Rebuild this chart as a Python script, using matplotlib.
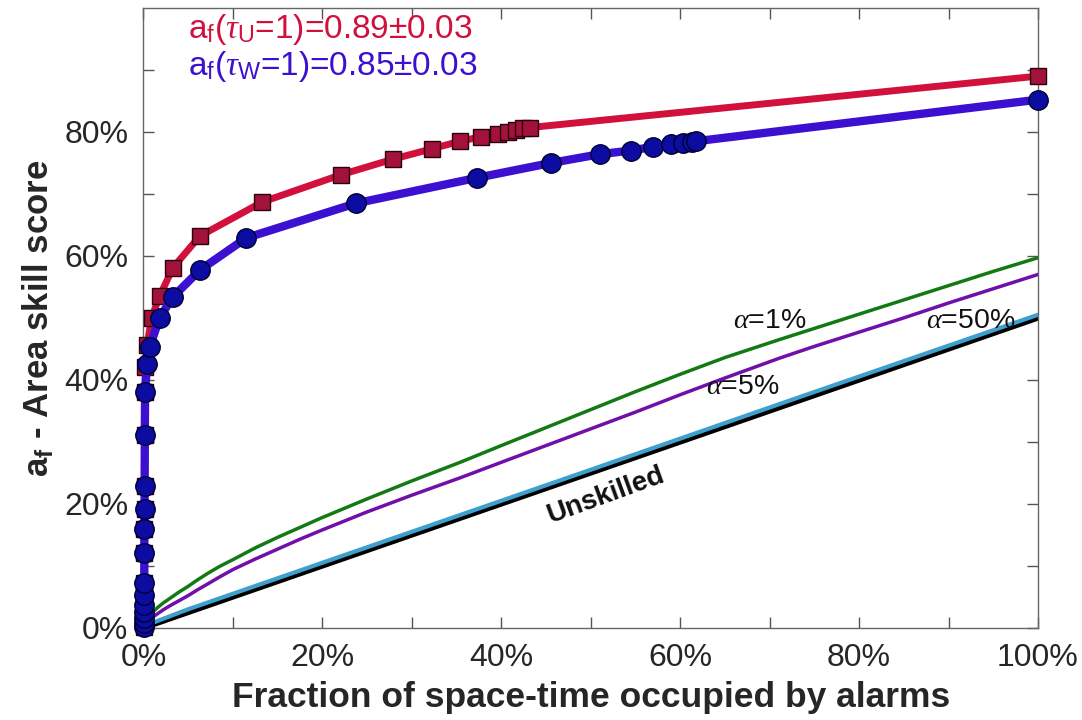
import numpy as np
import matplotlib.pyplot as plt
from matplotlib.ticker import FixedLocator

plt.rcParams["font.family"] = ["Liberation Sans", "DejaVu Sans"]
plt.rcParams["mathtext.fontset"] = "custom"
plt.rcParams["mathtext.rm"] = "Liberation Sans"
plt.rcParams["mathtext.it"] = "Liberation Serif:italic"
plt.rcParams["mathtext.bf"] = "Liberation Sans:bold"

# tau_U curve (red squares)
x_u = [0.0003, 0.0004, 0.0005, 0.0006, 0.0007, 0.0008, 0.0009, 0.001, 0.001, 0.0012,
       0.0013, 0.0015, 0.0018, 0.002, 0.004, 0.009, 0.018, 0.033, 0.063, 0.133,
       0.221, 0.279, 0.323, 0.354, 0.377, 0.396, 0.407, 0.416, 0.424, 0.432, 1.0]
y_u = [0.002, 0.008, 0.016, 0.026, 0.037, 0.053, 0.073, 0.121, 0.16, 0.192,
       0.229, 0.311, 0.381, 0.42, 0.456, 0.50, 0.535, 0.581, 0.632, 0.687,
       0.731, 0.756, 0.773, 0.785, 0.792, 0.797, 0.80, 0.803, 0.806, 0.807, 0.89]

# tau_W curve (blue circles)
x_w = [0.0003, 0.0004, 0.0005, 0.0006, 0.0007, 0.0008, 0.0009, 0.001, 0.001, 0.0012,
       0.0013, 0.0015, 0.0018, 0.004, 0.007, 0.018, 0.033, 0.063, 0.115, 0.238,
       0.373, 0.456, 0.51, 0.545, 0.57, 0.59, 0.603, 0.613, 0.618, 1.0]
y_w = [0.002, 0.008, 0.016, 0.026, 0.037, 0.053, 0.073, 0.121, 0.16, 0.192,
       0.229, 0.311, 0.381, 0.426, 0.453, 0.50, 0.534, 0.577, 0.629, 0.685,
       0.726, 0.75, 0.764, 0.77, 0.776, 0.78, 0.782, 0.783, 0.785, 0.852]

# significance curves (alpha = 1%, 5%)
x_sig = [0.0, 0.001, 0.003, 0.006, 0.01, 0.016, 0.022, 0.03, 0.04, 0.05, 0.06,
         0.072, 0.085, 0.1, 0.125, 0.15, 0.175, 0.2, 0.25, 0.3, 0.354, 0.4,
         0.45, 0.5, 0.55, 0.6, 0.65, 0.711, 0.75, 0.8, 0.85, 0.9, 0.95, 1.0]
y_a1 = [0.0, 0.007, 0.013, 0.019, 0.025, 0.033, 0.040, 0.048, 0.058, 0.067, 0.077,
        0.088, 0.099, 0.11, 0.129, 0.146, 0.162, 0.178, 0.208, 0.237, 0.267, 0.294,
        0.323, 0.352, 0.381, 0.409, 0.436, 0.465, 0.483, 0.506, 0.529, 0.552, 0.575, 0.597]
y_a5 = [0.0, 0.004, 0.008, 0.012, 0.017, 0.023, 0.029, 0.036, 0.044, 0.052, 0.061,
        0.071, 0.082, 0.094, 0.111, 0.127, 0.143, 0.158, 0.187, 0.214, 0.242, 0.267,
        0.294, 0.321, 0.348, 0.376, 0.403, 0.435, 0.454, 0.477, 0.5, 0.524, 0.547, 0.57]
# alpha = 50% and unskilled
x_a50 = [0.0, 0.002, 0.01, 0.05, 0.1, 0.2, 0.354, 0.5, 0.723, 1.0]
y_a50 = [0.0, 0.003, 0.008, 0.03, 0.055, 0.105, 0.182, 0.255, 0.367, 0.505]
x_unsk = [0.0, 1.0]
y_unsk = [0.0, 0.5]

fig = plt.figure(figsize=(10.82, 7.2), dpi=100)
ax = fig.add_axes([0.1326, 0.128, 0.8267, 0.861])

ax.plot(x_unsk, y_unsk, color="black", lw=4, zorder=2)
ax.plot(x_a50, y_a50, color="#3fa0d0", lw=3, zorder=3)
ax.plot(x_sig, y_a5, color="#7010a8", lw=2.5, zorder=3)
ax.plot(x_sig, y_a1, color="#137a13", lw=2.5, zorder=3)

ax.plot(x_u, y_u, color="#d1103c", lw=5, marker="s", ms=12,
        mfc="#a3123a", mec="#2a0010", mew=1, zorder=4, clip_on=False)
ax.plot(x_w, y_w, color="#3c10d0", lw=6, marker="o", ms=14,
        mfc="#0c0ca0", mec="#000033", mew=1, zorder=5, clip_on=False)

ax.set_xlim(0, 1)
ax.set_ylim(0, 1)
ax.xaxis.set_major_locator(FixedLocator(np.arange(0, 1.01, 0.2)))
ax.xaxis.set_minor_locator(FixedLocator(np.arange(0.1, 1.0, 0.2)))
ax.set_xticklabels(["0%", "20%", "40%", "60%", "80%", "100%"])
ax.yaxis.set_major_locator(FixedLocator(np.arange(0, 0.81, 0.2)))
ax.yaxis.set_minor_locator(FixedLocator(np.arange(0.1, 1.0, 0.2)))
ax.set_yticklabels(["0%", "20%", "40%", "60%", "80%"])
ax.tick_params(which="both", direction="in", length=8, width=1, color="#555555",
               top=True, right=True, labelsize=23, labelcolor="#262626", pad=11)
for s in ax.spines.values():
    s.set_color("#666666")
    s.set_linewidth(1)

ax.set_xlabel("Fraction of space-time occupied by alarms", fontsize=25.5,
              fontweight="bold", color="#262626", labelpad=6)
ax.set_ylabel(r"$\mathbf{a_f}$ - Area skill score", fontsize=25,
              fontweight="bold", color="#262626", labelpad=6)

ax.text(0.05, 0.965, r"a$_\mathrm{f}$($\tau_\mathrm{U}$=1)=0.89$\pm$0.03",
        color="#d1103c", fontsize=24, va="center", ha="left")
ax.text(0.05, 0.906, r"a$_\mathrm{f}$($\tau_\mathrm{W}$=1)=0.85$\pm$0.03",
        color="#3c10d0", fontsize=24, va="center", ha="left")

ax.text(0.70, 0.495, r"$\alpha$=1%", fontsize=20.5, ha="center", va="center", color="#111111")
ax.text(0.67, 0.388, r"$\alpha$=5%", fontsize=20.5, ha="center", va="center", color="#111111")
ax.text(0.925, 0.495, r"$\alpha$=50%", fontsize=20.5, ha="center", va="center", color="#111111")
ax.text(0.517, 0.213, "Unskilled", fontsize=20, fontweight="bold", rotation=20,
        ha="center", va="center", color="#111111")

fig.savefig("out.png", dpi=100)
